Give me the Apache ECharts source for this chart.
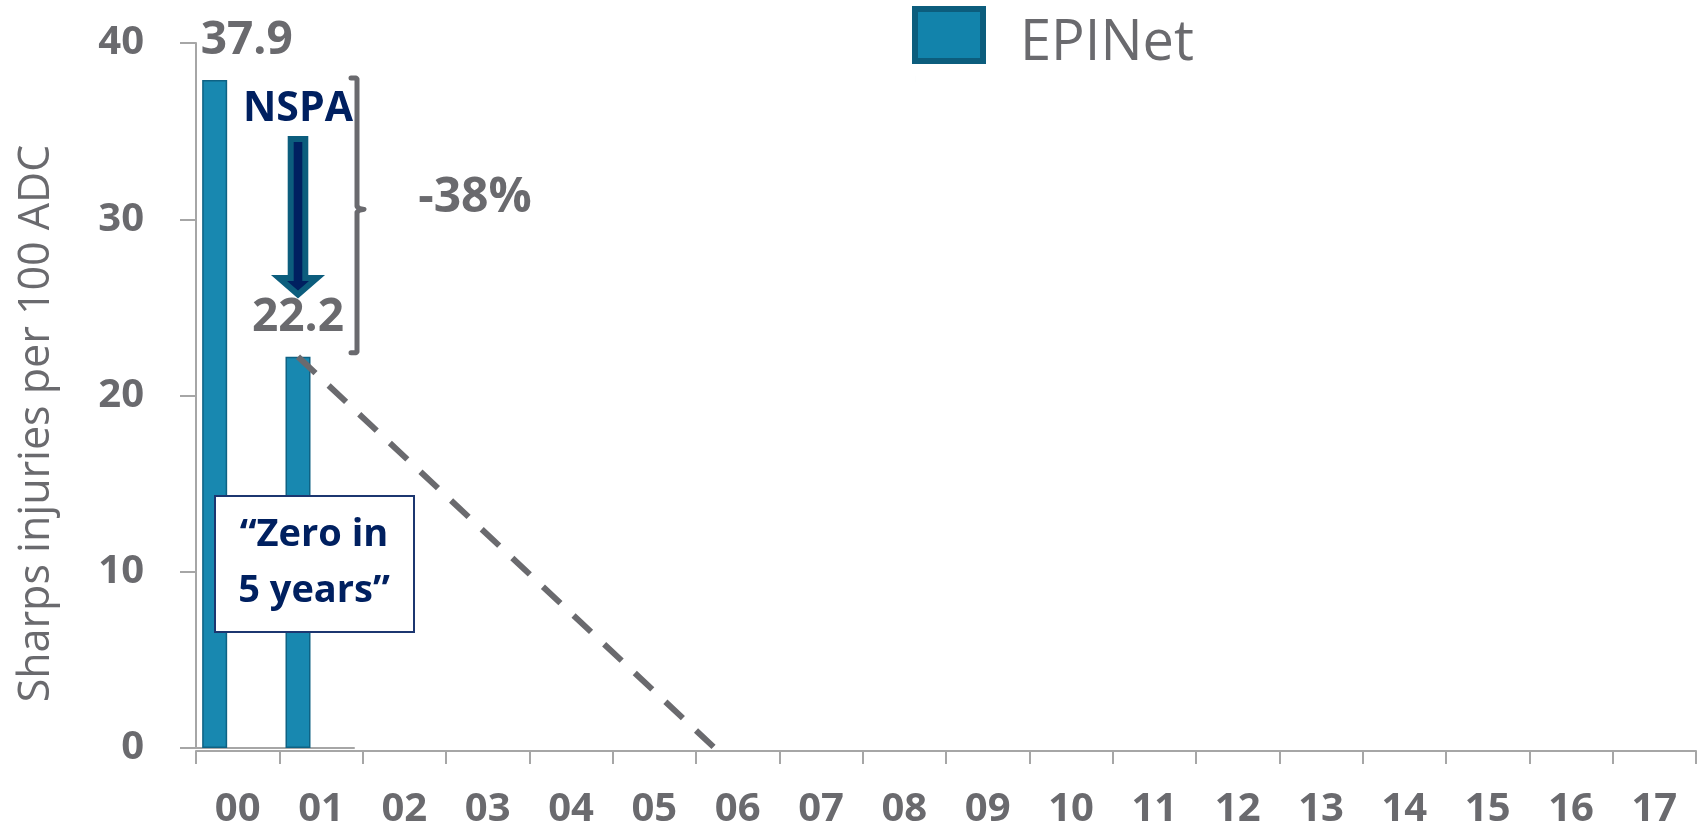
<!DOCTYPE html>
<html>
<head>
<meta charset="utf-8">
<title>Sharps injuries per 100 ADC</title>
<script src="https://cdn.jsdelivr.net/npm/echarts@6/dist/echarts.min.js"></script>
<style>
  html, body { margin: 0; padding: 0; background: #ffffff; }
  #chart { width: 1699px; height: 830px; }
</style>
</head>
<body>
<div id="chart"></div>
<script>
// Years on the horizontal axis (2000 - 2017)
const years = ['00', '01', '02', '03', '04', '05', '06', '07', '08', '09',
               '10', '11', '12', '13', '14', '15', '16', '17'];
// EPINet sharps injury rates (per 100 average daily census)
const epinetYears = ['00', '01'];
const epinetRates = [37.9, 22.2];
// "Zero in 5 years" target path
const targetYears = ['01', '06'];
const targetRates = [22.2, 0];
// Value axis
const yMin = 0, yMax = 40, yStep = 10;
// Annotation texts
const changeText = '-38%';
const lawText = 'NSPA';
const goalLines = ['\u201CZero in', '5 years\u201D'];

const GREY = '#6a6a6e';
const AXIS_GREY = '#a6a6a6';
const NAVY = '#002060';
const TEAL = '#1888b0';
const TEAL_DARK = '#0c5d7d';
const FONT = '"Open Sans", "Noto Sans", sans-serif';

const chart = echarts.init(document.getElementById('chart'), null, { renderer: 'canvas' });

const labelOffsets = [[32, 0], [0, 0]];

// legend swatch: a square sitting in the upper part of its slot
const swatch = 'path://M0,0L68,0L68,52L0,52Z M0,70L0.01,70';

const option = {
  animation: false,
  backgroundColor: '#ffffff',
  legend: {
    data: [{ name: 'EPINet', icon: swatch }],
    left: 912,
    top: 6,
    padding: 0,
    itemWidth: 68,
    itemHeight: 70,
    itemStyle: { color: '#1283ab', borderColor: TEAL_DARK, borderWidth: 6 },
    textStyle: { fontSize: 56, color: GREY, fontFamily: FONT, padding: [0, 0, 0, 32] }
  },
  grid: [
    // bars and target line
    { left: 173, right: 26, top: 43, bottom: 82 },
    // short frame carrying the value axis
    { left: 196, width: 158, top: 43, bottom: 82 },
    // year axis
    { left: 196, right: 3, top: 43, bottom: 79 }
  ],
  xAxis: [
    { gridIndex: 0, type: 'category', data: years, show: false },
    {
      gridIndex: 1, type: 'category', data: epinetYears,
      axisLine: { show: true, lineStyle: { color: AXIS_GREY, width: 2 } },
      axisTick: { show: false }, axisLabel: { show: false }
    },
    {
      gridIndex: 2, type: 'category', data: years,
      axisLine: { show: true, lineStyle: { color: AXIS_GREY, width: 2 } },
      axisTick: { show: true, length: 13, lineStyle: { color: AXIS_GREY, width: 2 } },
      axisLabel: { fontSize: 40, fontWeight: 'bold', color: GREY, fontFamily: FONT, margin: 39 }
    }
  ],
  yAxis: [
    { gridIndex: 0, type: 'value', min: yMin, max: yMax, interval: yStep, show: false },
    {
      gridIndex: 1, type: 'value', min: yMin, max: yMax, interval: yStep,
      name: 'Sharps injuries per 100 ADC',
      nameLocation: 'middle', nameRotate: 90, nameGap: 138,
      nameTextStyle: { fontSize: 43, color: GREY, fontFamily: FONT, fontWeight: 'normal', padding: [0, 56, 0, 0] },
      axisLine: { show: true, lineStyle: { color: AXIS_GREY, width: 2 } },
      axisTick: { show: true, length: 16, lineStyle: { color: AXIS_GREY, width: 2 } },
      splitLine: { show: false },
      axisLabel: { fontSize: 40, fontWeight: 'bold', color: GREY, fontFamily: FONT, margin: 52 }
    },
    { gridIndex: 2, type: 'value', min: yMin, max: yMax, show: false }
  ],
  series: [
    {
      name: 'EPINet',
      type: 'bar',
      xAxisIndex: 0, yAxisIndex: 0,
      barWidth: 25,
      itemStyle: { color: TEAL, borderColor: '#0e6284', borderWidth: 1.5 },
      data: epinetRates.map((v, i) => ({ value: [epinetYears[i], v], label: { offset: labelOffsets[i] } })),
      label: {
        show: true, position: 'top', distance: 16,
        fontSize: 46, fontWeight: 'bold', color: GREY, fontFamily: FONT,
        formatter: p => p.value[1].toFixed(1)
      },
      z: 2
    },
    {
      name: 'Target',
      type: 'line',
      xAxisIndex: 0, yAxisIndex: 0,
      data: targetYears.map((y, i) => [y, targetRates[i]]),
      symbol: 'none',
      lineStyle: { color: GREY, width: 6, type: [24, 18], cap: 'butt' },
      z: 3
    }
  ]
};

chart.setOption(option);

// Annotations placed from the chart's own scales
const px = (cat, val) => chart.convertToPixel({ xAxisIndex: 0, yAxisIndex: 0 }, [cat, val]);
const topPt = px(epinetYears[0], epinetRates[0]);
const lowPt = px(epinetYears[1], epinetRates[1]);
const cx = lowPt[0];

// bracket spanning the drop
const bx = 357, hook = 6;
const bTop = topPt[1] - 2, bBot = lowPt[1] - 4, bMid = (bTop + bBot) / 2 - 6;
const bracketPts = [
  [bx - hook, bTop], [bx - 1, bTop], [bx, bTop + 1],
  [bx, bMid - 3], [bx + 2, bMid - 1], [bx + hook + 1, bMid], [bx + 2, bMid + 1], [bx, bMid + 3],
  [bx, bBot - 1], [bx - 1, bBot], [bx - hook, bBot]
];

// downward arrow under the NSPA label
const aTop = 139, aNeck = 278, aTip = 294.5, shaftHalf = 7.3, headHalf = 19;
const arrowPts = [
  [cx - shaftHalf, aTop], [cx + shaftHalf, aTop], [cx + shaftHalf, aNeck],
  [cx + headHalf, aNeck], [cx, aTip], [cx - headHalf, aNeck], [cx - shaftHalf, aNeck]
];

chart.setOption({
  graphic: [
    {
      type: 'polyline', z: 10,
      shape: { points: bracketPts },
      style: { fill: null, stroke: GREY, lineWidth: 5, lineCap: 'round', lineJoin: 'round' }
    },
    {
      type: 'text', z: 10, x: 475, y: 198,
      style: { text: changeText, fontSize: 48, fontWeight: 'bold', fill: GREY, fontFamily: FONT, align: 'center', verticalAlign: 'middle' }
    },
    {
      type: 'text', z: 10, x: cx, y: 109,
      style: { text: lawText, fontSize: 41, fontWeight: 'bold', fill: NAVY, fontFamily: FONT, align: 'center', verticalAlign: 'middle' }
    },
    {
      type: 'polygon', z: 10,
      shape: { points: arrowPts },
      style: { fill: NAVY, stroke: TEAL_DARK, lineWidth: 6, lineJoin: 'miter' }
    },
    {
      type: 'rect', z: 10,
      shape: { x: 215, y: 496, width: 199, height: 136 },
      style: { fill: '#ffffff', stroke: '#1c3670', lineWidth: 2 }
    },
    {
      type: 'text', z: 11, x: 314, y: 535,
      style: { text: goalLines[0], fontSize: 38, fontWeight: 'bold', fill: NAVY, fontFamily: FONT, align: 'center', verticalAlign: 'middle' }
    },
    {
      type: 'text', z: 11, x: 314, y: 591,
      style: { text: goalLines[1], fontSize: 38, fontWeight: 'bold', fill: NAVY, fontFamily: FONT, align: 'center', verticalAlign: 'middle' }
    }
  ]
});
</script>
</body>
</html>
